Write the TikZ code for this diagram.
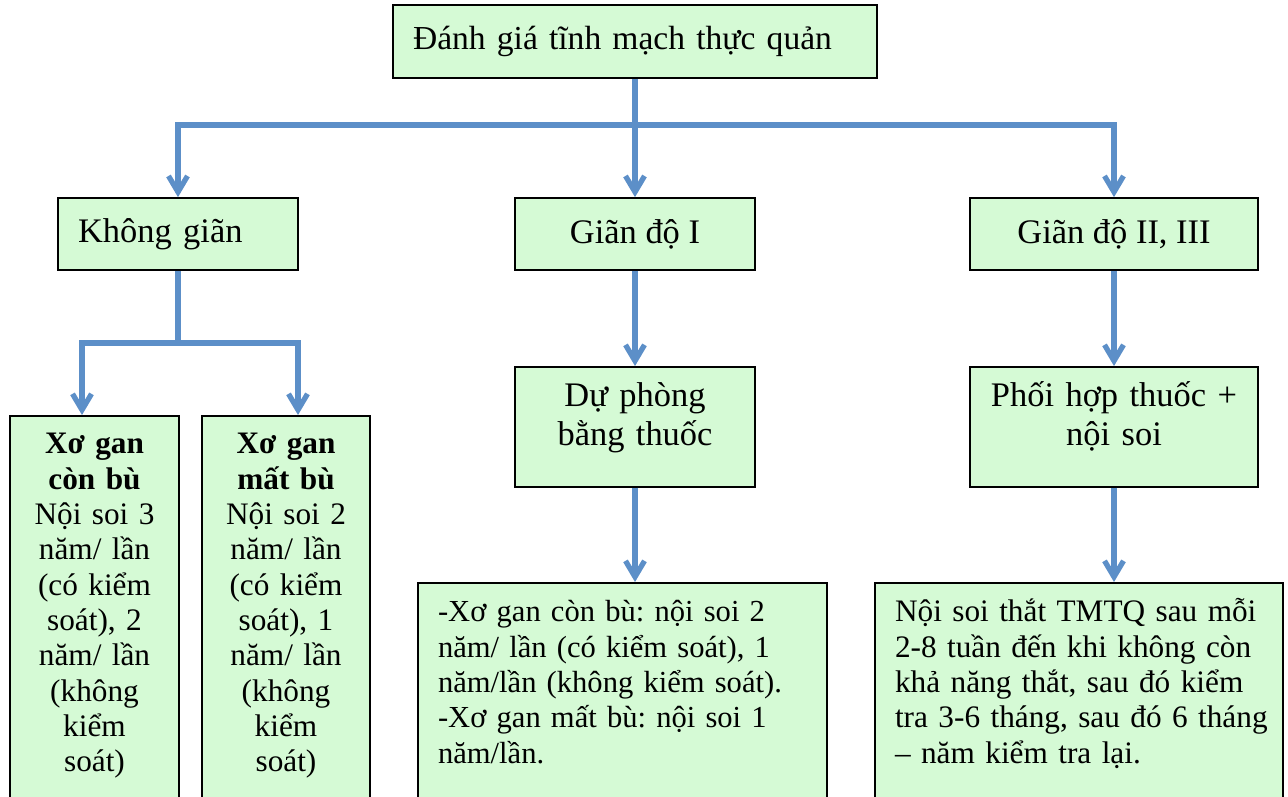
\documentclass[tikz,border=0pt]{standalone}
\usepackage{fontspec}
\setmainfont{Liberation Serif}
\usetikzlibrary{arrows.meta}
\frenchspacing

\definecolor{boxgreen}{RGB}{213,250,213}
\definecolor{flowblue}{RGB}{92,143,200}

% one justified line of the right-hand note
\newcommand{\spreadline}[1]{\makebox[\linewidth][s]{#1}}

\tikzset{
  box/.style={draw=black, line width=1pt, fill=boxgreen, inner sep=0pt},
  bigtext/.style={font=\fontsize{19.6}{22}\selectfont},
  smalltext/.style={font=\fontsize{17.8}{20.1}\selectfont},
  notetext/.style={font=\fontsize{17.4}{20.1}\selectfont},
  flow/.style={draw=flowblue, line width=3pt},
  flowarrow/.style={-{Straight Barb[length=3.2mm,width=3.8mm]}}
}

\begin{document}
\begin{tikzpicture}[x=0.02cm, y=-0.02cm]
  \useasboundingbox (0,0) rectangle (1288,796);

  % --- 1. TOP AND FIRST LEVEL ---
  \node[box, font=\fontsize{19.1}{22}\selectfont, minimum width=9.68cm, minimum height=1.46cm,
        text width=8.88cm, align=left]
    (top) at (635,41.5) {Đánh giá tĩnh mạch thực quản};

  \node[box, bigtext, minimum width=4.8cm, minimum height=1.44cm, text width=4.0cm, align=left]
    (khong) at (178,234) {Không giãn};
  \node[box, bigtext, minimum width=4.8cm, minimum height=1.44cm, align=center]
    (gian1) at (635,234) {Giãn độ I};
  \node[box, bigtext, minimum width=5.76cm, minimum height=1.44cm, align=center]
    (gian23) at (1114,234) {Giãn độ II, III};

  % --- 2. SECOND LEVEL ---
  \node[box, bigtext, anchor=north, text width=4.8cm, align=center,
        inner ysep=0.2cm, text height=0.6cm, text depth=1.4cm]
    (duphong) at (635,366) {Dự phòng\\bằng thuốc};
  \node[box, bigtext, anchor=north, text width=5.76cm, align=center,
        inner ysep=0.2cm, text height=0.6cm, text depth=1.4cm]
    (phoihop) at (1114,366) {Phối hợp thuốc +\\nội soi};

  % the two tall boxes under "Khong gian" (run off the bottom edge)
  \node[box, smalltext, anchor=north, text width=3.38cm, align=center,
        inner ysep=0.2cm, text height=0.56cm, text depth=7.3cm]
    (conbu) at (94.5,415)
    {\textbf{Xơ gan}\\\textbf{còn bù}\\Nội soi 3\\năm/ lần\\(có kiểm\\soát), 2\\năm/ lần\\(không\\kiểm\\soát)};
  \node[box, smalltext, anchor=north, text width=3.36cm, align=center,
        inner ysep=0.2cm, text height=0.56cm, text depth=7.3cm]
    (matbu) at (286,415)
    {\textbf{Xơ gan}\\\textbf{mất bù}\\Nội soi 2\\năm/ lần\\(có kiểm\\soát), 1\\năm/ lần\\(không\\kiểm\\soát)};

  % --- 3. NOTES AT THE BOTTOM ---
  \node[box, notetext, anchor=north, text width=7.38cm, align=left,
        inner xsep=0.4cm, inner ysep=0.2cm, text height=0.58cm, text depth=5cm]
    (dpnote) at (622.5,582)
    {-Xơ gan còn bù: nội soi 2\\năm/ lần (có kiểm soát), 1\\năm/lần (không kiểm soát).\\-Xơ gan mất bù: nội soi 1\\năm/lần.};
  \node[box, smalltext, anchor=north, text width=7.36cm, align=left,
        inner xsep=0.4cm, inner ysep=0.2cm, text height=0.58cm, text depth=5cm]
    (phnote) at (1079,582)
    {\spreadline{Nội soi thắt TMTQ sau mỗi}\\\spreadline{2-8 tuần đến khi không còn}\\\spreadline{khả năng thắt, sau đó kiểm}\\\spreadline{tra 3-6 tháng, sau đó 6 tháng}\\– năm kiểm tra lại.};

  % --- CONNECTORS ---
  \coordinate (bus) at (635,125);
  \draw[flow] (top.south) -- (bus);
  \foreach \n in {khong,gian1,gian23}
    \draw[flow, flowarrow] (bus) -| (\n.north);

  \coordinate (split) at (178,343);
  \draw[flow] (khong.south) -- (split);
  \draw[flow, flowarrow] (split) -| ([xshift=-0.25cm]conbu.north);
  \draw[flow, flowarrow] (split) -| ([xshift=0.24cm]matbu.north);

  \draw[flow, flowarrow] (gian1.south) -- (duphong.north);
  \draw[flow, flowarrow] (duphong.south) -- (duphong.south |- dpnote.north);
  \draw[flow, flowarrow] (gian23.south) -- (phoihop.north);
  \draw[flow, flowarrow] (phoihop.south) -- (phoihop.south |- phnote.north);

\end{tikzpicture}
\end{document}
